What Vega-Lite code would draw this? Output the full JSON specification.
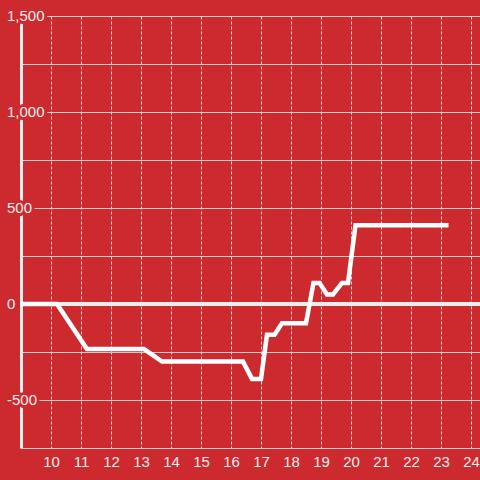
{
  "$schema": "https://vega.github.io/schema/vega-lite/v6.json",
  "width": 459,
  "height": 432,
  "autosize": {"type": "none"},
  "padding": {"left": 21, "top": 16, "right": 0, "bottom": 32},
  "background": "#CC2A2F",
  "config": {"view": {"stroke": null}, "font": "Liberation Sans"},
  "datasets": {
    "series": [
      {"x": 9.0, "y": 0},
      {"x": 10.2, "y": 0},
      {"x": 11.2, "y": -235},
      {"x": 13.1, "y": -235},
      {"x": 13.7, "y": -300},
      {"x": 16.4, "y": -300},
      {"x": 16.7, "y": -390},
      {"x": 17.0, "y": -390},
      {"x": 17.2, "y": -160},
      {"x": 17.45, "y": -160},
      {"x": 17.7, "y": -100},
      {"x": 18.5, "y": -100},
      {"x": 18.75, "y": 110},
      {"x": 18.95, "y": 110},
      {"x": 19.2, "y": 50},
      {"x": 19.4, "y": 50},
      {"x": 19.7, "y": 110},
      {"x": 19.9, "y": 110},
      {"x": 20.15, "y": 410},
      {"x": 23.25, "y": 410}
    ],
    "ylabels": [
      {"v": -500, "label": "-500"},
      {"v": 0, "label": "0"},
      {"v": 500, "label": "500"},
      {"v": 1000, "label": "1,000"},
      {"v": 1500, "label": "1,500"}
    ]
  },
  "data": {"name": "series"},
  "layer": [
    {
      "mark": {"type": "rule", "color": "#eeeeee", "strokeWidth": 3},
      "encoding": {
        "y": {
          "datum": 0,
          "type": "quantitative",
          "scale": {"domain": [-750, 1500], "nice": false, "zero": false},
          "axis": {
            "values": [-500, -250, 0, 250, 500, 750, 1000, 1250, 1500],
            "labels": false,
            "grid": true,
            "gridColor": "#cccccc",
            "domainColor": "#eeeeee",
            "domainWidth": 3,
            "ticks": false,
            "title": null
          }
        }
      }
    },
    {
      "mark": {"type": "line", "color": "#ffffff", "strokeWidth": 4.5, "clip": true},
      "encoding": {
        "x": {
          "field": "x",
          "type": "quantitative",
          "scale": {"domain": [9, 24.3], "nice": false, "zero": false},
          "axis": {
            "values": [10, 11, 12, 13, 14, 15, 16, 17, 18, 19, 20, 21, 22, 23, 24],
            "grid": true,
            "gridDash": [3, 2],
            "gridColor": "#dddddd",
            "domainColor": "#cccccc",
            "ticks": false,
            "labelPadding": 6,
            "labelColor": "#eeeeee",
            "labelFontSize": 15,
            "labelFlush": false,
            "labelOverlap": false,
            "title": null
          }
        },
        "y": {
          "field": "y",
          "type": "quantitative",
          "scale": {"domain": [-750, 1500], "nice": false, "zero": false},
          "axis": {
            "values": [-500, -250, 0, 250, 500, 750, 1000, 1250, 1500],
            "labels": false,
            "grid": true,
            "gridColor": "#cccccc",
            "domainColor": "#eeeeee",
            "domainWidth": 3,
            "ticks": false,
            "title": null
          }
        }
      }
    },
    {
      "data": {"name": "ylabels"},
      "mark": {"type": "text", "align": "left", "baseline": "middle", "fontSize": 15, "fill": "#CC2A2F", "stroke": "#CC2A2F", "strokeWidth": 6, "strokeJoin": "round"},
      "encoding": {
        "x": {
          "datum": 8.533,
          "type": "quantitative",
          "scale": {"domain": [9, 24.3], "nice": false, "zero": false},
          "axis": {
            "values": [10, 11, 12, 13, 14, 15, 16, 17, 18, 19, 20, 21, 22, 23, 24],
            "grid": true,
            "gridDash": [3, 2],
            "gridColor": "#dddddd",
            "domainColor": "#cccccc",
            "ticks": false,
            "labelPadding": 6,
            "labelColor": "#eeeeee",
            "labelFontSize": 15,
            "labelFlush": false,
            "labelOverlap": false,
            "title": null
          }
        },
        "y": {
          "field": "v",
          "type": "quantitative",
          "scale": {"domain": [-750, 1500], "nice": false, "zero": false},
          "axis": {
            "values": [-500, -250, 0, 250, 500, 750, 1000, 1250, 1500],
            "labels": false,
            "grid": true,
            "gridColor": "#cccccc",
            "domainColor": "#eeeeee",
            "domainWidth": 3,
            "ticks": false,
            "title": null
          }
        },
        "text": {"field": "label"}
      }
    },
    {
      "data": {"name": "ylabels"},
      "mark": {"type": "text", "align": "left", "baseline": "middle", "fontSize": 15, "fill": "#eeeeee"},
      "encoding": {
        "x": {
          "datum": 8.533,
          "type": "quantitative",
          "scale": {"domain": [9, 24.3], "nice": false, "zero": false},
          "axis": {
            "values": [10, 11, 12, 13, 14, 15, 16, 17, 18, 19, 20, 21, 22, 23, 24],
            "grid": true,
            "gridDash": [3, 2],
            "gridColor": "#dddddd",
            "domainColor": "#cccccc",
            "ticks": false,
            "labelPadding": 6,
            "labelColor": "#eeeeee",
            "labelFontSize": 15,
            "labelFlush": false,
            "labelOverlap": false,
            "title": null
          }
        },
        "y": {
          "field": "v",
          "type": "quantitative",
          "scale": {"domain": [-750, 1500], "nice": false, "zero": false},
          "axis": {
            "values": [-500, -250, 0, 250, 500, 750, 1000, 1250, 1500],
            "labels": false,
            "grid": true,
            "gridColor": "#cccccc",
            "domainColor": "#eeeeee",
            "domainWidth": 3,
            "ticks": false,
            "title": null
          }
        },
        "text": {"field": "label"}
      }
    }
  ]
}
